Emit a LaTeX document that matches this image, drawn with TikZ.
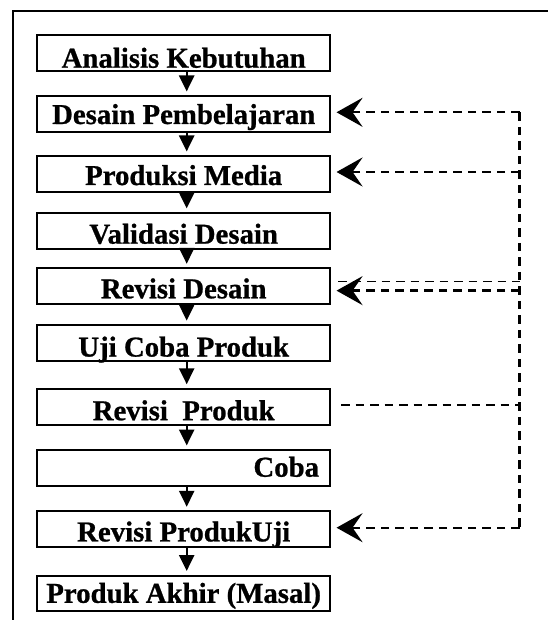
\documentclass[tikz,border=0pt]{standalone}
\usepackage{fontspec}
\setmainfont{Liberation Serif}[BoldFeatures={FakeBold=0.8}]
\usetikzlibrary{arrows.meta,calc}
\tikzset{
  stagebox/.style={draw, line width=2pt, minimum width=292.7pt, minimum height=35.7pt,
    inner xsep=0pt, text depth=0pt, font=\bfseries\fontsize{28.8}{31}\selectfont},
  bl/.style 2 args={inner ysep=#1pt, text height=#2pt},
  flow/.style={line width=2.4pt, -{Triangle[length=16pt,width=15pt]}, shorten >=3.5pt},
  fbline/.style={line width=2.4pt, dash pattern=on 8.5pt off 6pt},
  fb/.style={fbline, -{Stealth[length=26pt,width=29pt,inset=10pt]}, shorten >=5.5pt},
  frameline/.style={line width=2.4pt}
}
\begin{document}
\begin{tikzpicture}[x=1pt,y=-1pt]
\useasboundingbox (0,0) rectangle (547,620);
\draw[frameline] (12.7,625) -- (12.7,11) -- (552,11);

\node[stagebox, bl={3}{29.7}]   (b1)  at (183.7,52.85)  {Analisis Kebutuhan};
\node[stagebox, bl={7.7}{20.3}] (b2)  at (183.7,113.85) {Desain Pembelajaran};
\node[stagebox, bl={6.7}{22.3}] (b3)  at (183.7,173.85) {Produksi Media};
\node[stagebox, bl={5}{25.7}]   (b4)  at (183.7,230.8)  {Validasi Desain};
\node[stagebox, bl={5.7}{24.3}] (b5)  at (183.7,286.15) {Revisi Desain};
\node[stagebox, bl={4.3}{27.1}] (b6)  at (183.7,343)    {Uji Coba Produk};
\node[stagebox, bl={4.3}{27.1}] (b7)  at (183.7,406.65) {Revisi\ \ Produk};
\node[stagebox, bl={9}{17.7}]   (b8)  at (183.7,467.85) {\makebox[270.7pt][r]{Coba}};
\node[stagebox, bl={5.6}{24.5}] (b9)  at (183.7,529.15) {Revisi ProdukUji};
\node[stagebox, bl={8.4}{18.9}] (b10) at (183.7,593.35) {Produk Akhir (Masal)};

\foreach \a/\b in {b1/b2,b2/b3,b3/b4,b4/b5,b5/b6,b6/b7,b7/b8,b8/b9,b9/b10}
  \draw[flow] ([xshift=3pt]\a.south) -- ([xshift=3pt]\b.north);

\coordinate (vt) at (519.5,112.3);
\coordinate (vb) at (519.5,527.7);
\draw[fbline] (vt) -- (vb);
\draw[fb] (vt) -- (b2.east |- vt);
\draw[fb] ([yshift=1.85pt]b3.east -| vt) -- ([yshift=1.85pt]b3.east);
\draw[fbline, line width=1.6pt, shorten <=7pt] ([yshift=4.5pt]b5.east) -- ([yshift=4.5pt]b5.east -| vt);
\draw[fb] ([yshift=-4.5pt]b5.east -| vt) -- ([yshift=-4.5pt]b5.east);
\draw[fbline, shorten <=10pt] ([yshift=1.6pt]b7.east) -- ([yshift=1.6pt]b7.east -| vt);
\draw[fb] (vb) -- (b9.east |- vb);
\end{tikzpicture}
\end{document}
